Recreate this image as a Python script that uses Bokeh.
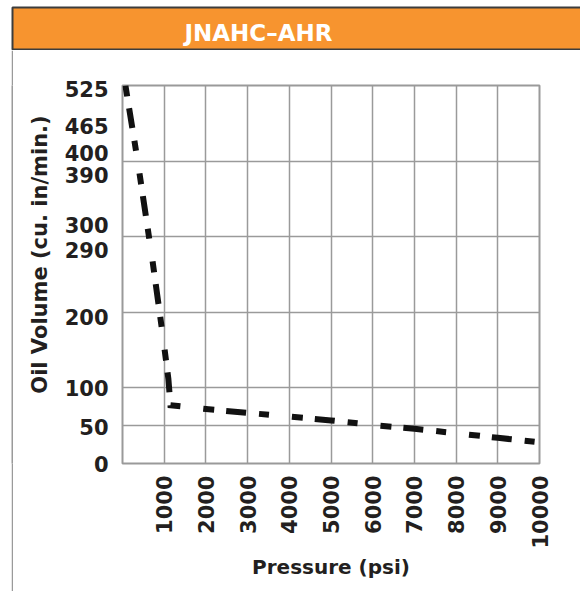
import math
from bokeh.plotting import figure
from bokeh.layouts import column, row
from bokeh.models import Range1d, FixedTicker, Spacer
from bokeh.core.properties import value
from bokeh.embed import file_html
from bokeh.resources import INLINE

# ---- data ----
pressure = [70, 350, 710, 960, 1100, 1150, 2000, 3000, 4000, 5000, 6000, 7000, 8000, 9000, 10000]
volume = [500, 405, 272, 172, 112, 77, 72, 67, 62, 57, 51, 46, 40, 34, 28]

x_ticks = [1000, 2000, 3000, 4000, 5000, 6000, 7000, 8000, 9000, 10000]
y_tick_pos = [495, 446, 411, 381, 315, 282, 194, 100, 48, 0]
y_tick_labels = ["525", "465", "400", "390", "300", "290", "200", "100", "50", "0"]
x_grid = [1000, 2000, 3000, 4000, 5000, 6000, 7000, 8000, 9000]
y_grid = [50, 100, 200, 300, 400]

title_text = "JNAHC\u2013AHR"
x_title = "Pressure (psi)"
y_title = "Oil Volume (cu. in/min.)"

TEXT = "#231f20"
ORANGE = "#f7942f"
GRID = "#9a9a9a"
DARK = "#3c3c3c"
FONT = "DejaVu Sans"
BODY_H = 541


def bare(w, h, xr, yr, fill="white"):
    f = figure(width=w, height=h, output_backend="svg", toolbar_location=None,
               x_range=xr, y_range=yr, x_axis_location=None, y_axis_location=None,
               min_border=0)
    f.outline_line_color = None
    f.grid.visible = False
    f.background_fill_color = fill
    f.border_fill_color = fill
    return f


# ---- header band ----
hdr = bare(580, 50, Range1d(0, 580), Range1d(50, 0))
hdr.quad(left=[12], right=[600], top=[7], bottom=[49], fill_color=ORANGE,
         line_color=DARK, line_width=2)
hdr.text(x=[258], y=[32], text=[title_text], text_align="center", text_baseline="middle",
         text_color="white", text_font=value(FONT), text_font_style="bold",
         text_font_size="23px")

# ---- left panel border (solid grey strip) ----
strip = bare(2, BODY_H, Range1d(0, 1), Range1d(0, 1), fill=GRID)

# ---- y-axis title column (frame aligned with the chart frame: page y 85..463) ----
ytl = bare(47, BODY_H, Range1d(13, 60), Range1d(463, 85))
ytl.text(x=[39], y=[254], text=[y_title], angle=math.pi / 2, text_align="center",
         text_baseline="middle", text_color=TEXT, text_font=value(FONT),
         text_font_style="bold", text_font_size="21px")

# ---- main chart ----
p = figure(width=520, height=BODY_H, output_backend="svg", toolbar_location=None,
           x_range=Range1d(0, 10000), y_range=Range1d(0, 500),
           min_border_left=62, min_border_right=41, min_border_top=35, min_border_bottom=128)
p.background_fill_color = "white"
p.border_fill_color = "white"
p.outline_line_color = GRID
p.outline_line_width = 2

p.line(pressure, volume, line_color="#111111", line_width=6, line_dash="11 12 20 13 10 23",
       line_join="miter")

p.xgrid.ticker = FixedTicker(ticks=x_grid)
p.ygrid.ticker = FixedTicker(ticks=y_grid)
for g in (p.xgrid, p.ygrid):
    g.grid_line_color = GRID
    g.grid_line_width = 1.5

p.xaxis.ticker = FixedTicker(ticks=x_ticks)
p.xaxis.major_label_orientation = math.pi / 2
p.xaxis.major_label_standoff = 12
p.xaxis.axis_label = x_title
p.xaxis.axis_label_standoff = 3
p.yaxis.ticker = FixedTicker(ticks=y_tick_pos)
p.yaxis.major_label_overrides = {v: s for v, s in zip(y_tick_pos, y_tick_labels)}
p.yaxis.major_label_standoff = 14
for ax in (p.xaxis, p.yaxis):
    ax.axis_line_color = None
    ax.major_tick_line_color = None
    ax.minor_tick_line_color = None
    ax.major_tick_in = 0
    ax.major_tick_out = 0
    ax.major_label_text_font = FONT
    ax.major_label_text_font_style = "bold"
    ax.major_label_text_font_size = "21px"
    ax.major_label_text_color = TEXT
    ax.axis_label_text_font = FONT
    ax.axis_label_text_font_style = "bold"
    ax.axis_label_text_font_size = "20px"
    ax.axis_label_text_color = TEXT

layout = column(hdr, row(Spacer(width=11, height=BODY_H), strip, ytl, p, spacing=0), spacing=0)
open("out.html", "w").write(file_html(layout, INLINE))
